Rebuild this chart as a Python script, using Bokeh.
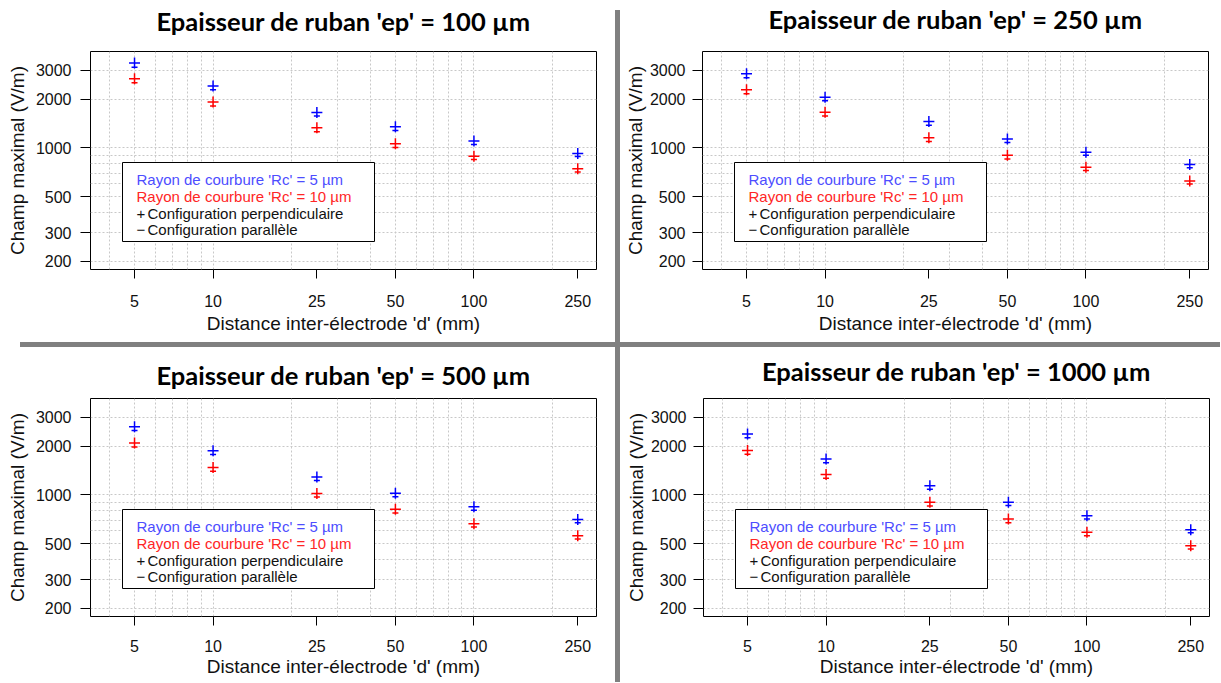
import math
from bokeh.plotting import figure
from bokeh.models import FixedTicker, BoxAnnotation, Label, Range1d, BasicTickFormatter, LogAxis, Div
from bokeh.layouts import row, column
from bokeh.embed import file_html
from bokeh.resources import INLINE

# ---------------- data ----------------
distances = [5, 10, 25, 50, 100, 250]
x_tick_labels = ["5", "10", "25", "50", "100", "250"]
y_ticks = [200, 300, 500, 1000, 2000, 3000]
y_tick_labels = ["200", "300", "500", "1000", "2000", "3000"]
x_grid = [4, 5, 6, 7, 8, 9, 10, 20, 30, 40, 50, 60, 70, 80, 90, 100, 200]
y_grid = [200, 300, 400, 500, 600, 700, 800, 900, 1000, 2000, 3000]

titles = [
    "Epaisseur de ruban 'ep' = 100 µm",
    "Epaisseur de ruban 'ep' = 250 µm",
    "Epaisseur de ruban 'ep' = 500 µm",
    "Epaisseur de ruban 'ep' = 1000 µm",
]

# ep = 100 µm
ep100_perp_rc5 = [3330, 2410, 1655, 1350, 1105, 925]
ep100_perp_rc10 = [2665, 1920, 1330, 1060, 890, 745]
ep100_para_rc5 = [3140, 2280, 1570, 1280, 1050, 885]
ep100_para_rc10 = [2520, 1810, 1260, 1005, 850, 710]

# ep = 250 µm
ep250_perp_rc5 = [2865, 2055, 1455, 1135, 940, 790]
ep250_perp_rc10 = [2280, 1660, 1155, 900, 760, 625]
ep250_para_rc5 = [2710, 1950, 1380, 1080, 900, 755]
ep250_para_rc10 = [2160, 1570, 1095, 855, 725, 600]

# ep = 500 µm
ep500_perp_rc5 = [2630, 1870, 1290, 1025, 845, 705]
ep500_perp_rc10 = [2085, 1475, 1020, 815, 665, 560]
ep500_para_rc5 = [2490, 1775, 1225, 975, 805, 675]
ep500_para_rc10 = [1975, 1400, 970, 775, 635, 535]

# ep = 1000 µm
ep1000_perp_rc5 = [2375, 1665, 1140, 900, 745, 610]
ep1000_perp_rc10 = [1875, 1335, 900, 710, 590, 487]
ep1000_para_rc5 = [2250, 1580, 1085, 860, 710, 585]
ep1000_para_rc10 = [1780, 1265, 855, 675, 560, 465]

legend_lines = [
    "Rayon de courbure 'Rc' = 5 µm",
    "Rayon de courbure 'Rc' = 10 µm",
    "Configuration perpendiculaire",
    "Configuration parallèle",
]
legend_symbols = ["+", "−"]

x_axis_title = "Distance inter-électrode 'd' (mm)"
y_axis_title = "Champ maximal (V/m)"

# ---------------- style ----------------
X_LIM = (3.39, 295.0)
Y_LIM = (178.3, 3926.0)
BLUE = "#0000FF"
RED = "#FF0000"
BLUE_TXT = "#4d4dff"
RED_TXT = "#ff2626"
TXT = "#111111"
FONT = "Liberation Sans"
FW = 506
GRAY = "#808080"


def make_panel(title, perp5, perp10, para5, para10, W, H, left, top, fh,
               title_so, ylab_so, ytitle_so, xlab_so, xtitle_so):
    p = figure(width=W, height=H, x_axis_type="log", y_axis_type="log",
               x_range=Range1d(*X_LIM), y_range=Range1d(*Y_LIM),
               output_backend="svg", toolbar_location=None, title=None,
               min_border_left=left, min_border_top=top,
               min_border_right=W - left - FW, min_border_bottom=H - top - fh,
               x_axis_label=x_axis_title, y_axis_label=y_axis_title)
    p.background_fill_color = "white"
    p.border_fill_color = "white"
    p.outline_line_color = "black"
    p.outline_line_width = 1

    xa = p.below[0]
    ya = p.left[0]

    # panel title, drawn as the label of an empty axis above the frame
    t_axis = LogAxis(ticker=FixedTicker(ticks=[], minor_ticks=[]), axis_label=title)
    t_axis.axis_line_color = None
    t_axis.major_tick_line_color = None
    t_axis.minor_tick_line_color = None
    t_axis.major_tick_out = 0
    t_axis.major_tick_in = 0
    t_axis.major_label_standoff = 0
    t_axis.axis_label_standoff = title_so
    t_axis.axis_label_text_font = "Lato"
    t_axis.axis_label_text_font_size = "25.5px"
    t_axis.axis_label_text_font_style = "bold"
    t_axis.axis_label_text_color = "black"
    p.add_layout(t_axis, "above")

    xa.ticker = FixedTicker(ticks=distances, minor_ticks=[])
    xa.formatter = BasicTickFormatter(use_scientific=False)
    xa.major_label_overrides = dict(zip(distances, x_tick_labels))
    ya.ticker = FixedTicker(ticks=y_ticks, minor_ticks=[])
    ya.formatter = BasicTickFormatter(use_scientific=False)
    ya.major_label_overrides = dict(zip(y_ticks, y_tick_labels))

    for ax in (xa, ya):
        ax.axis_line_color = None
        ax.major_tick_line_color = "black"
        ax.major_tick_in = 0
        ax.minor_tick_line_color = None
        ax.major_label_text_font = FONT
        ax.major_label_text_font_size = "16px"
        ax.major_label_text_color = TXT
        ax.axis_label_text_font = FONT
        ax.axis_label_text_font_size = "19px"
        ax.axis_label_text_font_style = "normal"
        ax.axis_label_text_color = TXT
    xa.major_tick_out = 9
    xa.major_label_standoff = xlab_so
    xa.axis_label_standoff = xtitle_so
    ya.major_tick_out = 10
    ya.major_label_standoff = ylab_so
    ya.axis_label_standoff = ytitle_so

    p.xgrid.ticker = FixedTicker(ticks=x_grid)
    p.ygrid.ticker = FixedTicker(ticks=y_grid)
    for g in (p.xgrid[0], p.ygrid[0]):
        g.grid_line_color = "#c8c8c8"
        g.grid_line_dash = "2 2"
        g.grid_line_width = 1

    p.scatter(distances, para5, marker="dash", size=6, line_color=BLUE, line_width=1.5)
    p.scatter(distances, perp5, marker="cross", size=11, line_color=BLUE, line_width=1.5)
    p.scatter(distances, para10, marker="dash", size=6, line_color=RED, line_width=1.5)
    p.scatter(distances, perp10, marker="cross", size=11, line_color=RED, line_width=1.5)

    lx0, lx1 = math.log10(X_LIM[0]), math.log10(X_LIM[1])
    ly0, ly1 = math.log10(Y_LIM[0]), math.log10(Y_LIM[1])

    def dx(px):
        return 10 ** (lx0 + px / FW * (lx1 - lx0))

    def dy(py):
        return 10 ** (ly1 - py / fh * (ly1 - ly0))

    # legend
    p.add_layout(BoxAnnotation(left=dx(32), right=dx(284), top=dy(111), bottom=dy(190),
                               fill_color="white", fill_alpha=1.0,
                               line_color="black", line_width=1, line_alpha=1.0))
    rows_y = [128, 145, 162, 178]
    colors = [BLUE_TXT, RED_TXT, TXT, TXT]
    for i, (txt, col) in enumerate(zip(legend_lines, colors)):
        xpx = 46 if i < 2 else 57
        p.add_layout(Label(x=dx(xpx), y=dy(rows_y[i]), text=txt, text_color=col,
                           text_font=FONT, text_font_size="15px",
                           text_baseline="middle", text_align="left"))
    for i, sym in enumerate(legend_symbols):
        p.add_layout(Label(x=dx(46), y=dy(rows_y[2 + i]), text=sym, text_color=TXT,
                           text_font=FONT, text_font_size="15px",
                           text_baseline="middle", text_align="left"))
    return p


p1 = make_panel(titles[0], ep100_perp_rc5, ep100_perp_rc10, ep100_para_rc5, ep100_para_rc10,
                615, 342, 90, 51, 218, 16, 9, 5, 16, 3)
p2 = make_panel(titles[1], ep250_perp_rc5, ep250_perp_rc10, ep250_para_rc5, ep250_para_rc10,
                600, 342, 82, 51, 218, 18, 7, 1, 16, 3)
p3 = make_panel(titles[2], ep500_perp_rc5, ep500_perp_rc10, ep500_para_rc5, ep500_para_rc10,
                615, 335, 90, 51, 218, 9, 9, 5, 14, 1)
p4 = make_panel(titles[3], ep1000_perp_rc5, ep1000_perp_rc10, ep1000_para_rc5, ep1000_para_rc10,
                600, 335, 83, 51, 218, 13, 7, 1, 14, 1)

v_top = Div(text="", width=5, height=332, margin=(10, 0, 0, 0),
            styles={"background-color": GRAY})
v_bot = Div(text="", width=5, height=335, margin=(0, 0, 0, 0),
            styles={"background-color": GRAY})
h_sep = Div(text="", width=1200, height=5, margin=(0, 0, 0, 20),
            styles={"background-color": GRAY})

layout = column(row(p1, v_top, p2), h_sep, row(p3, v_bot, p4))

with open("out.html", "w") as f:
    f.write(file_html(layout, INLINE))
